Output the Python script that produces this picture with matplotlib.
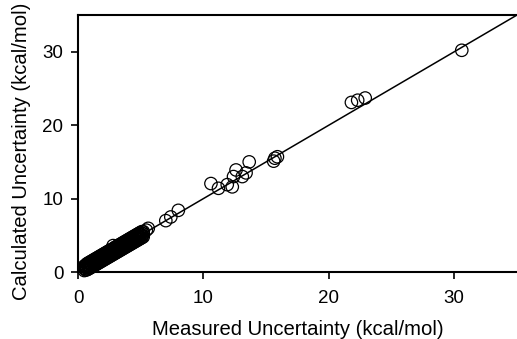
import matplotlib
matplotlib.use('Agg')
from matplotlib import pyplot as plt

plt.rcParams['font.family'] = ['Liberation Sans', 'DejaVu Sans']

# dense group of small uncertainties (kcal/mol)
blob_x = [0.5, 0.6, 0.7, 0.8, 0.9, 1.0, 1.1, 1.2, 1.3, 1.4,
          1.5, 1.6, 1.7, 1.8, 1.9, 2.0, 2.1, 2.2, 2.3, 2.4,
          2.5, 2.6, 2.7, 2.8, 2.9, 3.0, 3.1, 3.2, 3.3, 3.4,
          3.5, 3.6, 3.7, 3.8, 3.9, 4.0, 4.1, 4.2, 4.3, 4.4,
          4.5, 4.6, 4.7, 4.8, 4.9, 5.0, 5.1, 5.2]
blob_hi = [0.8, 0.9, 1.1, 1.2, 1.3, 1.4, 1.5, 1.6, 1.7, 1.8,
           1.9, 2.0, 2.1, 2.2, 2.3, 2.4, 2.5, 2.6, 2.7, 2.8,
           2.9, 3.0, 3.1, 3.6, 3.3, 3.4, 3.5, 3.6, 3.7, 3.8,
           3.9, 4.0, 4.1, 4.2, 4.3, 4.4, 4.5, 4.6, 4.7, 4.8,
           4.9, 5.0, 5.1, 5.2, 5.3, 5.4, 5.5, 5.5]
blob_mid = [0.5, 0.7, 0.6, 0.9, 0.8, 1.1, 1.0, 1.3, 1.2, 1.5,
            1.4, 1.7, 1.6, 1.9, 1.8, 2.1, 2.0, 2.3, 2.2, 2.5,
            2.4, 2.7, 2.6, 2.9, 2.8, 3.1, 3.0, 3.3, 3.2, 3.5,
            3.4, 3.7, 3.6, 3.9, 3.8, 4.1, 4.0, 4.3, 4.2, 4.5,
            4.4, 4.7, 4.6, 4.9, 4.8, 5.1, 5.0, 5.2]
blob_lo = [0.2, 0.3, 0.3, 0.4, 0.5, 0.6, 0.7, 0.8, 0.9, 1.0,
           1.1, 1.2, 1.3, 1.4, 1.5, 1.6, 1.7, 1.8, 1.9, 2.0,
           2.1, 2.2, 2.3, 2.4, 2.5, 2.6, 2.7, 2.8, 2.9, 3.0,
           3.1, 3.2, 3.3, 3.4, 3.5, 3.6, 3.7, 3.8, 3.9, 4.0,
           4.1, 4.2, 4.3, 4.4, 4.5, 4.6, 4.7, 4.8]

# the scattered larger ones
sparse_x = [5.45, 5.6, 7.0, 7.4, 8.0,
            10.6, 11.2, 11.9, 12.3, 12.4, 12.6, 13.1, 13.4, 13.65,
            15.6, 15.7, 15.9,
            21.8, 22.3, 22.9, 30.6]
sparse_y = [5.7, 5.95, 7.0, 7.5, 8.4,
            12.05, 11.4, 11.9, 11.6, 13.0, 13.9, 13.0, 13.5, 15.0,
            15.1, 15.5, 15.7,
            23.1, 23.4, 23.7, 30.2]

measured = blob_x * 3 + sparse_x
calculated = blob_hi + blob_mid + blob_lo + sparse_y

ref_line = [0, 35]
ticks = [0, 10, 20, 30]

fig = plt.figure(figsize=(5.17, 3.39), dpi=100)
ax = fig.add_axes([0.1509, 0.1976, 0.849, 0.758])

ax.plot(ref_line, ref_line, color='black', lw=1.1, zorder=1)
ax.scatter(measured, calculated, s=80, facecolors='none', edgecolors='black',
           linewidths=0.9, zorder=2, clip_on=False)

ax.set_xlim(0, 35)
ax.set_ylim(0, 35)
ax.set_xticks(ticks)
ax.set_yticks(ticks)
ax.spines['right'].set_visible(False)
for s in ['left', 'bottom', 'top']:
    ax.spines[s].set_linewidth(1.5)
ax.tick_params(direction='out', length=5, width=1.2, labelsize=13.5)
ax.tick_params(axis='x', pad=8, top=False)
ax.tick_params(axis='y', pad=5.5)

ax.set_xlabel('Measured Uncertainty (kcal/mol)', fontsize=14.6, labelpad=9)
ax.set_ylabel('Calculated Uncertainty (kcal/mol)', fontsize=14.6)
ax.yaxis.set_label_coords(-0.106, 0.47)

fig.savefig('out.png', dpi=100)
